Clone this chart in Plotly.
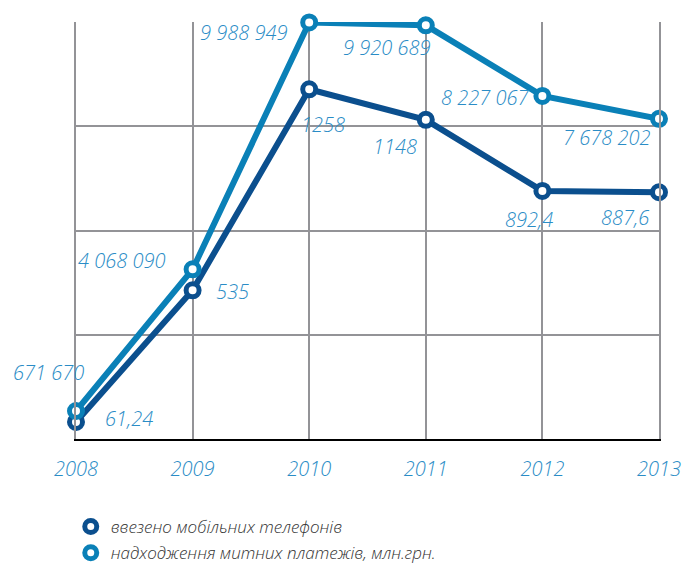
import plotly.graph_objects as go

years = [2008, 2009, 2010, 2011, 2012, 2013]
phones = [61.24, 535, 1258, 1148, 892.4, 887.6]
phones_labels = ["61,24", "535", "1258", "1148", "892,4", "887,6"]
payments = [671670, 4068090, 9988949, 9920689, 8227067, 7678202]
payments_labels = ["671 670", "4 068 090", "9 988 949", "9 920 689", "8 227 067", "7 678 202"]
series_names = ["ввезено мобільних телефонів", "надходження митних платежів, млн.грн."]

DARK = "#0b4f8e"
LIGHT = "#0a80b7"
LABEL = "#2a8cc6"
GRID = "#939397"
FONT = "Open Sans"

# label offsets in pixels (dx right, dy down) relative to each point
phones_off = [(53, -3), (40, 1), (14, 35), (-31, 27), (-13, 29), (-34, 25)]
payments_off = [(-28, -38), (-71, -9), (-66, 10), (-39, 22), (-57, 2), (-53, 19)]

fig = go.Figure()

fig.add_trace(go.Scatter(
    x=years, y=phones, yaxis="y", mode="lines+markers", showlegend=False,
    line=dict(color=DARK, width=6),
    marker=dict(symbol="circle", size=13, color="white", line=dict(color=DARK, width=5)),
    cliponaxis=False, hoverinfo="skip"))
fig.add_trace(go.Scatter(
    x=years, y=payments, yaxis="y2", mode="lines+markers", showlegend=False,
    line=dict(color=LIGHT, width=6),
    marker=dict(symbol="circle", size=13, color="white", line=dict(color=LIGHT, width=5)),
    cliponaxis=False, hoverinfo="skip"))

# legend-only traces
for name, col in zip(series_names, [DARK, LIGHT]):
    fig.add_trace(go.Scatter(
        x=[None], y=[None], mode="markers", name=name, legendgroup=name,
        marker=dict(symbol="circle", size=12, color="white", line=dict(color=col, width=5))))

lab_font = dict(family=FONT, size=20, color=LABEL, style="italic", weight=300)
annots = []
for x, y, t, (dx, dy) in zip(years, phones, phones_labels, phones_off):
    annots.append(dict(x=x, y=y, xref="x", yref="y", text=t, showarrow=False,
                       xshift=dx, yshift=-dy, font=lab_font))
for x, y, t, (dx, dy) in zip(years, payments, payments_labels, payments_off):
    annots.append(dict(x=x, y=y, xref="x", yref="y2", text=t, showarrow=False,
                       xshift=dx, yshift=-dy, font=lab_font))

fig.update_layout(
    width=674, height=557,
    margin=dict(l=68, r=23, t=14, b=126, autoexpand=False),
    paper_bgcolor="white", plot_bgcolor="white",
    annotations=annots,
    xaxis=dict(range=[2008, 2013], tickvals=years, ticktext=[str(y) for y in years],
               showgrid=True, gridcolor=GRID, gridwidth=2,
               showline=True, linecolor="black", linewidth=2,
               zeroline=False, ticks="", ticklabelstandoff=11,
               tickfont=lab_font),
    yaxis=dict(range=[0, 1500], showgrid=False, zeroline=False,
               showticklabels=False, showline=True, linecolor=GRID, linewidth=2),
    yaxis2=dict(range=[0, 10000000], overlaying="y", side="right", dtick=2500000,
                showgrid=True, gridcolor=GRID, gridwidth=1.5, zeroline=False,
                showticklabels=False, showline=True, linecolor=GRID, linewidth=2),
    legend=dict(x=-0.009, xanchor="left", y=-0.168, yanchor="top",
                font=dict(family=FONT, size=17, color="#333333", style="italic", weight=300),
                tracegroupgap=1, traceorder="grouped", bgcolor="rgba(0,0,0,0)"),
    showlegend=True,
)

fig.write_html("out.html")
